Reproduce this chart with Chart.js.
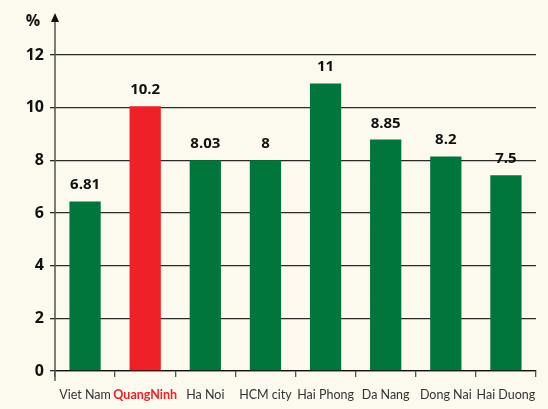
<!DOCTYPE html>
<html>
<head>
<meta charset="utf-8">
<script src="https://cdn.jsdelivr.net/npm/chart.js@4"></script>
<style>
html,body{margin:0;padding:0;background:#fcf9ee;}
#wrap{width:548px;height:409px;}
</style>
</head>
<body>
<div id="wrap"><canvas id="growthChart" width="548" height="409"></canvas></div>
<script>
// categories and values
const places = ["Viet Nam", "QuangNinh", "Ha Noi", "HCM city", "Hai Phong", "Da Nang", "Dong Nai", "Hai Duong"];
const barHeights = [6.44, 10.05, 8.0, 8.0, 10.92, 8.79, 8.15, 7.43];
const valueLabels = ["6.81", "10.2", "8.03", "8", "11", "8.85", "8.2", "7.5"];
const yTicks = [0, 2, 4, 6, 8, 10, 12];

const GREEN = "#00763c";
const RED = "#ed2127";
const FONT = "'Open Sans', 'DejaVu Sans', sans-serif";
const LABEL_FONT = "Lato, 'Open Sans', sans-serif";

// value labels above bars, the arrow on the y axis and the % sign
const extras = {
  id: "extras",
  afterDatasetsDraw(c){
    const ctx = c.ctx;
    const meta = c.getDatasetMeta(0);
    ctx.save();
    ctx.fillStyle = "#111";
    ctx.font = "bold 15px " + FONT;
    ctx.textAlign = "center";
    ctx.textBaseline = "alphabetic";
    meta.data.forEach((bar, i) => {
      ctx.fillText(valueLabels[i], bar.x, bar.y - 12);
    });

    const x = c.scales.y.left + c.scales.y.width;
    ctx.strokeStyle = "#55554f";
    ctx.lineWidth = 1.5;
    ctx.beginPath();
    ctx.moveTo(x, 20);
    ctx.lineTo(x, c.chartArea.bottom + 10);
    ctx.stroke();
    ctx.fillStyle = "#111";
    ctx.beginPath();
    ctx.moveTo(x, 13);
    ctx.lineTo(x - 4, 22);
    ctx.lineTo(x + 4, 22);
    ctx.closePath();
    ctx.fill();

    ctx.font = "bold 16px " + FONT;
    ctx.textAlign = "center";
    ctx.textBaseline = "middle";
    ctx.fillText("%", 33, 21);
    ctx.restore();
  }
};

new Chart(document.getElementById("growthChart"), {
  type: "bar",
  data: {
    labels: places,
    datasets: [{
      data: barHeights,
      backgroundColor: places.map(p => p === "QuangNinh" ? RED : GREEN),
      categoryPercentage: 1,
      barPercentage: 0.52
    }]
  },
  options: {
    responsive: false,
    animation: false,
    layout: { padding: { top: 55, right: 12, left: 0, bottom: 0 } },
    plugins: { legend: { display: false }, tooltip: { enabled: false } },
    scales: {
      y: {
        min: 0,
        max: 12,
        afterBuildTicks: s => { s.ticks = yTicks.map(v => ({ value: v })); },
        border: { display: false },
        grid: { color: "#2b2b28", lineWidth: 1.3, tickLength: 5 },
        ticks: {
          padding: 6,
          color: "#111",
          font: { family: FONT, size: 16, weight: "bold" }
        },
        afterFit: s => { s.width = 55; }
      },
      x: {
        border: { display: true, color: "#111", width: 1.3 },
        grid: { offset: true, drawOnChartArea: false, color: "#55554f", tickLength: 6, lineWidth: 1.3 },
        ticks: {
          padding: 10,
          maxRotation: 0,
          autoSkip: false,
          color: ctx => places[ctx.index] === "QuangNinh" ? RED : "#333",
          font: ctx => ({
            family: LABEL_FONT,
            size: 12.5,
            weight: places[ctx.index] === "QuangNinh" ? "bold" : "normal"
          })
        },
        afterFit: s => { s.height = 38; }
      }
    }
  },
  plugins: [extras]
});
</script>
</body>
</html>
